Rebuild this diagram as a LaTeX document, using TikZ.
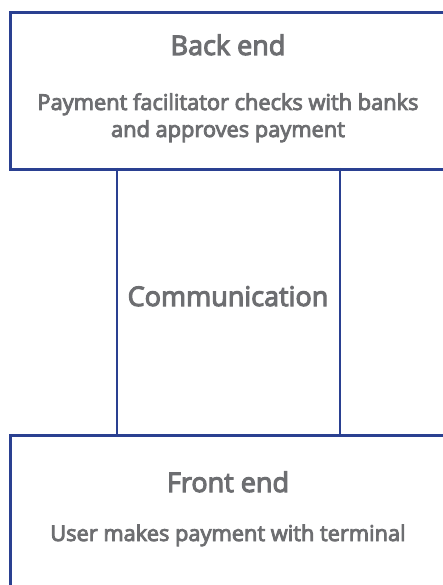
\documentclass[tikz,border=0pt]{standalone}
\usepackage{fontspec}
\setmainfont{Open Sans}
\newfontfamily\semi{Open Sans}[FakeBold=4]
\definecolor{edge}{RGB}{42,64,145}
\definecolor{txt}{RGB}{109,110,113}
\begin{document}
\begin{tikzpicture}[x=1pt,y=1pt,
  box/.style={draw=edge,line width=2.6pt,inner sep=0pt,anchor=north west},
  title/.style={text=txt,font=\semi\fontsize{27}{30}\selectfont,anchor=base},
  body/.style={text=txt,font=\semi\fontsize{21.8}{27}\selectfont,anchor=base,align=center},
  link/.style={draw=edge,line width=2.6pt}]
\useasboundingbox (0,0) rectangle (442,-585);
\node[box,minimum width=450pt,minimum height=157pt] (back) at (9,-11) {};
\node[box,minimum width=450pt,minimum height=170pt] (front) at (9,-434) {};
\node[title] (backt) at (228,-55) {Back end};
\node[body] (backb) at (228,-110) {Payment facilitator checks with banks};
\node[body] (backb2) at (228,-137) {and approves payment};
\node[title] (comm) at (228,-306) {Communication};
\node[title] (frontt) at (228,-492) {Front end};
\node[body] (frontb) at (228,-541) {User makes payment with terminal};
\coordinate (l1) at (117,-168);
\coordinate (l2) at (340,-168);
\draw[link] (l1) -- (l1 |- front.north);
\draw[link] (l2) -- (l2 |- front.north);
\end{tikzpicture}
\end{document}
